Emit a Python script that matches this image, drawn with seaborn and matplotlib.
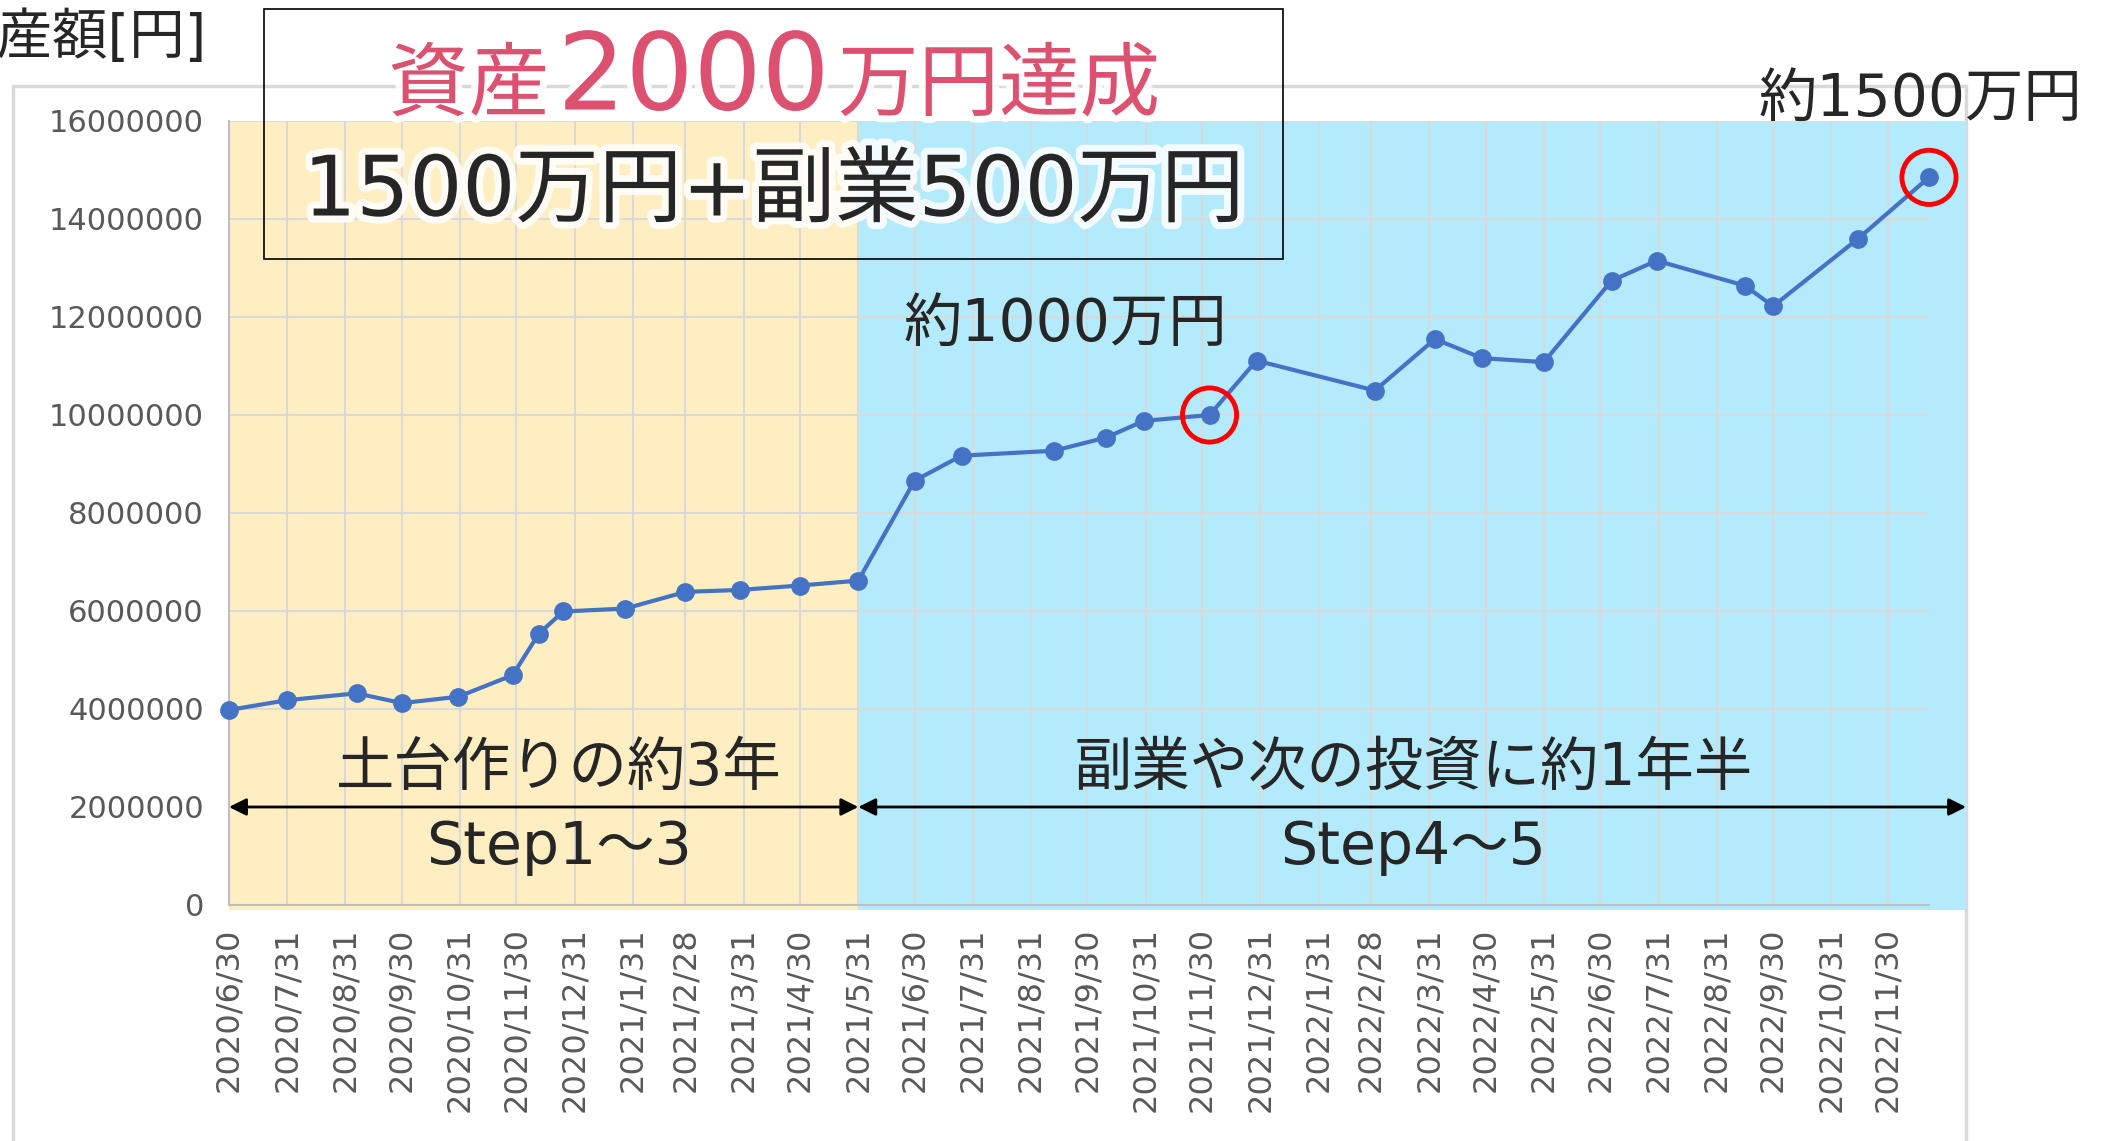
import matplotlib
matplotlib.use('Agg')
import matplotlib.pyplot as plt
import matplotlib.patheffects as pe
import matplotlib.dates as mdates
from matplotlib.patches import Rectangle
from matplotlib.offsetbox import TextArea, HPacker, AnnotationBbox
import seaborn as sns
import pandas as pd

# asset total per record date (yen)
dates = ['2020-06-30', '2020-07-31', '2020-09-06', '2020-09-30', '2020-10-30', '2020-11-28',
         '2020-12-12', '2020-12-25', '2021-01-27', '2021-02-28', '2021-03-29', '2021-04-30',
         '2021-05-31', '2021-06-30', '2021-07-25', '2021-09-12', '2021-10-10', '2021-10-30',
         '2021-12-04', '2021-12-29', '2022-03-02', '2022-04-03', '2022-04-28', '2022-05-31',
         '2022-07-06', '2022-07-30', '2022-09-15', '2022-09-30', '2022-11-14', '2022-12-22']
values = [3980000, 4180000, 4320000, 4120000, 4250000, 4690000,
          5540000, 5990000, 6050000, 6390000, 6430000, 6520000,
          6620000, 8660000, 9170000, 9270000, 9540000, 9880000,
          10000000, 11110000, 10500000, 11550000, 11160000, 11080000,
          12740000, 13150000, 12640000, 12220000, 13590000, 14850000]

highlight_dates = ['2021-12-04', '2022-12-22']
highlight_labels = ['約1000万円', '約1500万円']
phase_split = '2021-05-31'
phase_labels = ['土台作りの約3年', '副業や次の投資に約1年半']
phase_steps = ['Step1～3', 'Step4～5']
yticks = list(range(0, 16000001, 2000000))
tick_dates = pd.date_range('2020-06-30', '2022-11-30', freq=pd.offsets.MonthEnd())
tick_labels = [f'{d.year}/{d.month}/{d.day}' for d in tick_dates]

sns.set_style('white')
plt.rcParams['font.family'] = ['DejaVu Sans', 'Noto Sans CJK JP']

df = pd.DataFrame({'date': pd.to_datetime(dates), 'value': values})

W, H = 2103, 1141
fig = plt.figure(figsize=(W / 100, H / 100), dpi=100)
fig.patch.set_facecolor('white')
ax = fig.add_axes([229 / W, 1 - 905 / H, 1700 / W, 784 / H])
ax.patch.set_alpha(0)

sns.lineplot(data=df, x='date', y='value', ax=ax, color='#4472C4', lw=3,
             marker='o', markersize=13.5, markeredgewidth=0, zorder=5)
for ln in ax.lines:
    ln.set_clip_on(False)

ax.set_xlim(df['date'].min(), df['date'].max())
ax.set_ylim(0, 16000000)
ax.set_yticks(yticks)
ax.set_yticklabels([str(v) for v in yticks])
ax.set_xticks(tick_dates)
ax.set_xticklabels(tick_labels, rotation=90)
ax.tick_params(length=0, labelsize=22, colors='#595959')
ax.tick_params(axis='x', labelsize=23, pad=16)
ax.tick_params(axis='y', pad=18)
ax.set_xlabel('')
ax.set_ylabel('')

ax.set_axisbelow(True)
ax.grid(True, color='#D9D9D9', lw=1.5)
for s in ['top', 'right']:
    ax.spines[s].set_visible(False)
for s in ['left', 'bottom']:
    ax.spines[s].set_color('#BFBFBF')
    ax.spines[s].set_linewidth(1.5)

# phase backgrounds
x0, x1 = ax.get_xlim()
split = mdates.date2num(pd.Timestamp(phase_split))
x_end = x1 + 0.0218 * (x1 - x0)
tr = ax.get_xaxis_transform()
ax.add_patch(Rectangle((x0, -0.006), split - x0, 1.006, transform=tr, color='#FFEEC2',
                       lw=0, zorder=0.1, clip_on=False))
ax.add_patch(Rectangle((split, -0.006), x_end - split, 1.006, transform=tr, color='#B3EBFD',
                       lw=0, zorder=0.1, clip_on=False))

# phase arrows and labels
arrow_kw = dict(arrowstyle='<|-|>', color='black', lw=2, mutation_scale=26, shrinkA=0, shrinkB=0)
arrow_y = 2000000
spans = [(x0, split), (split, x_end)]
label_dx = [11, 1]
for (a, b), lab, step, dx in zip(spans, phase_labels, phase_steps, label_dx):
    ax.annotate('', xy=(b, arrow_y), xytext=(a, arrow_y), arrowprops=arrow_kw,
                annotation_clip=False, zorder=6)
    mid = (a + b) / 2
    ax.annotate(lab, xy=(mid, arrow_y), xytext=(dx, 28), textcoords='offset points',
                ha='center', va='center', fontsize=42, annotation_clip=False, zorder=6)
    ax.annotate(step, xy=(mid, arrow_y), xytext=(dx, -29), textcoords='offset points',
                ha='center', va='center', fontsize=42, annotation_clip=False, zorder=6)

# highlighted milestones
hl = df[df['date'].isin(pd.to_datetime(highlight_dates))]
ax.scatter(hl['date'], hl['value'], s=39 ** 2, facecolors='none', edgecolors='#FF0000',
           linewidths=3.5, zorder=7, clip_on=False)
offsets = [(-104, 65), (-6, 56)]
for (_, row), lab, off in zip(hl.iterrows(), highlight_labels, offsets):
    ax.annotate(lab, xy=(row['date'], row['value']), xytext=off, textcoords='offset points',
                ha='center', va='center', fontsize=42, annotation_clip=False, zorder=8)

# outer chart frame
fig.add_artist(Rectangle((13 / W, -0.05), (1966 - 13) / W, 1.05 - 86 / H, transform=fig.transFigure,
                         fill=False, ec='#D9D9D9', lw=2.5, zorder=-1))

# y axis title (clipped at the left edge, as in the source image)
fig.text(207 / W, 1 - 38 / H, '資産額[円]', ha='right', va='center', fontsize=40)

# title box
glow = [pe.withStroke(linewidth=10, foreground='white', alpha=0.85)]
fig.add_artist(Rectangle((264 / W, 1 - 259 / H), (1283 - 264) / W, 250 / H, transform=fig.transFigure,
                         fill=False, ec='black', lw=1.2, zorder=10))
pink = '#DC5070'
parts = [('資産', 58), ('2000', 77), ('万円達成', 58)]
boxes = [TextArea(t, textprops=dict(fontsize=fs, color=pink, path_effects=glow)) for t, fs in parts]
line1 = HPacker(children=boxes, align='baseline', pad=0, sep=6)
ab = AnnotationBbox(line1, (774 / W, 1 - 80 / H), xycoords='figure fraction', frameon=False,
                    box_alignment=(0.5, 0.5), zorder=11)
fig.add_artist(ab)
fig.text(774 / W, 1 - 192 / H, '1500万円+副業500万円', ha='center', va='center', fontsize=60,
         path_effects=glow, zorder=11)

fig.savefig('out.png', dpi=100)
